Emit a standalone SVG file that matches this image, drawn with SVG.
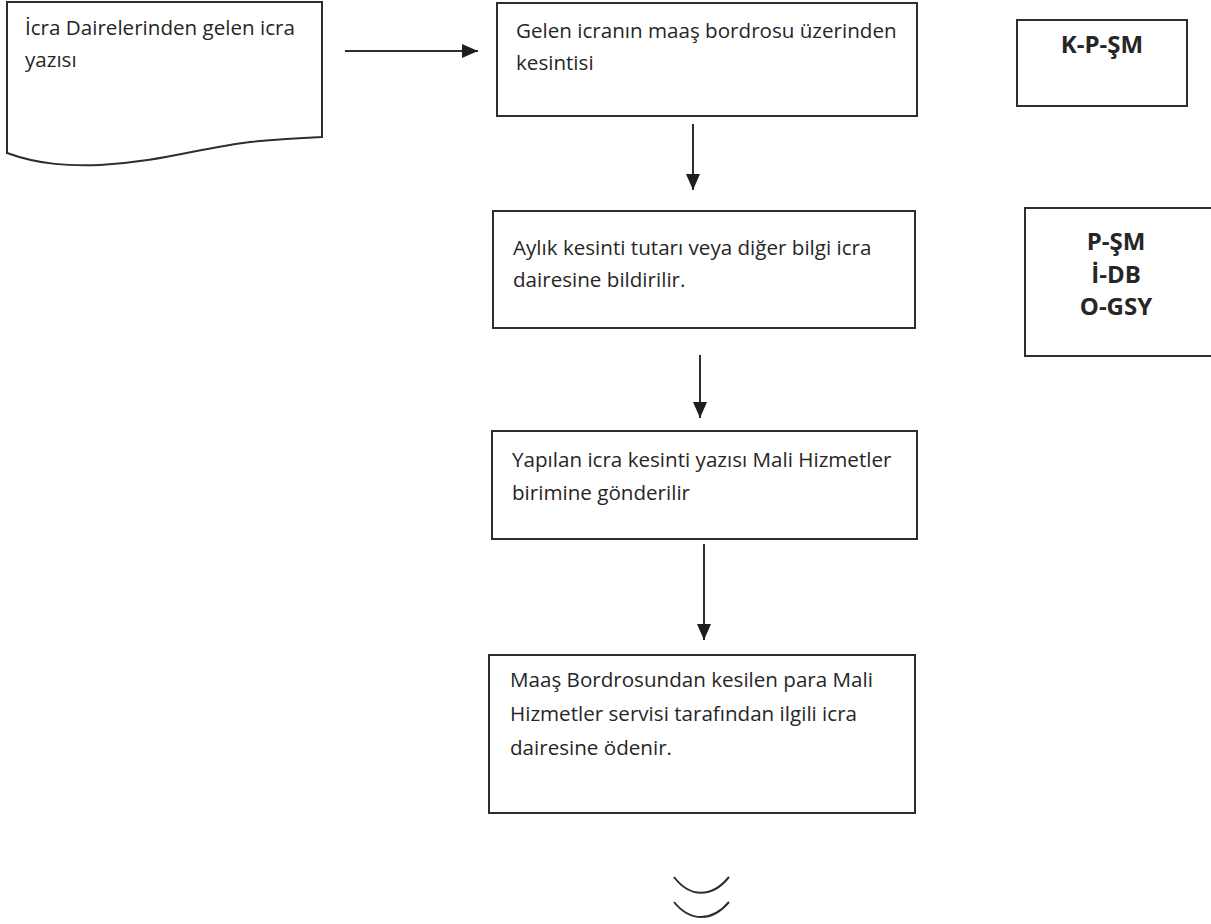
<svg xmlns="http://www.w3.org/2000/svg" width="1211" height="924" viewBox="0 0 1211 924">
<defs>
<style>
.box{fill:#ffffff;stroke:#2e2e2e;stroke-width:2}
.t{font-family:"Open Sans","Noto Sans","Liberation Sans",sans-serif;font-size:20.6px;fill:#262626}
.b{font-family:"Open Sans","Noto Sans","Liberation Sans",sans-serif;font-size:24px;font-weight:bold;fill:#262626;text-anchor:middle}
.c{stroke:#2e2e2e;stroke-width:2;fill:none}
</style>
<marker id="ah" viewBox="0 0 16 14" refX="16" refY="7" markerWidth="8" markerHeight="7" markerUnits="strokeWidth" orient="auto">
<path d="M0,0 L16,7 L0,14 Z" fill="#1e1e1e"/>
</marker>
</defs>
<rect width="1211" height="924" fill="#ffffff"/>
<g id="doc">
<path class="box" d="M7,2 H322 V137 C300,138 280,139 250,142 C200,148 160,162 100,165 C70,166 40,165 7,153 Z"/>
<text class="t" x="25" y="35">İcra Dairelerinden gelen icra</text>
<text class="t" x="25" y="67">yazısı</text>
</g>
<g id="n1">
<rect class="box" x="497" y="3" width="420" height="113"/>
<text class="t" x="516" y="38">Gelen icranın maaş bordrosu üzerinden</text>
<text class="t" x="516" y="70">kesintisi</text>
</g>
<g id="r1">
<rect class="box" x="1017" y="20" width="170" height="86"/>
<text class="b" x="1102" y="53">K-P-ŞM</text>
</g>
<g id="n2">
<rect class="box" x="493" y="211" width="422" height="117"/>
<text class="t" x="513" y="255">Aylık kesinti tutarı veya diğer bilgi icra</text>
<text class="t" x="513" y="287">dairesine bildirilir.</text>
</g>
<g id="r2">
<rect class="box" x="1025" y="208" width="200" height="148"/>
<text class="b" x="1116" y="250">P-ŞM</text>
<text class="b" x="1116" y="283">İ-DB</text>
<text class="b" x="1116" y="315">O-GSY</text>
</g>
<g id="n3">
<rect class="box" x="492" y="431" width="425" height="108"/>
<text class="t" x="512" y="467">Yapılan icra kesinti yazısı Mali Hizmetler</text>
<text class="t" x="512" y="500">birimine gönderilir</text>
</g>
<g id="n4">
<rect class="box" x="489" y="655" width="426" height="158"/>
<text class="t" x="510" y="687">Maaş Bordrosundan kesilen para Mali</text>
<text class="t" x="510" y="721">Hizmetler servisi tarafından ilgili icra</text>
<text class="t" x="510" y="755">dairesine ödenir.</text>
</g>
<g id="end">
<path class="c" d="M674,877 C690,898 712,898 729,877"/>
<path class="c" d="M674,902 C690,922 712,922 729,902"/>
</g>
<g id="connectors">
<line class="c" x1="345" y1="51" x2="478" y2="51" marker-end="url(#ah)"/>
<line class="c" x1="693" y1="124" x2="693" y2="190" marker-end="url(#ah)"/>
<line class="c" x1="700" y1="355" x2="700" y2="418" marker-end="url(#ah)"/>
<line class="c" x1="704" y1="544" x2="704" y2="640" marker-end="url(#ah)"/>
</g>
</svg>
